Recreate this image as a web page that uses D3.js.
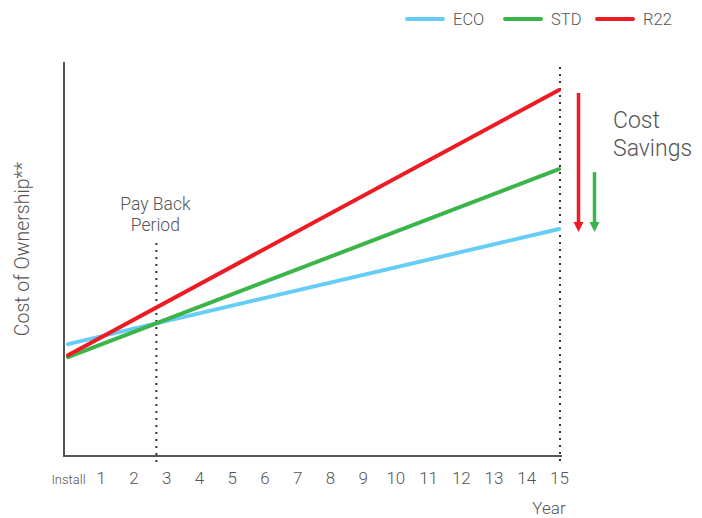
<!DOCTYPE html>
<html>
<head>
<meta charset="utf-8">
<script src="https://cdn.jsdelivr.net/npm/d3@7"></script>
<style>
  body { margin: 0; background: #fff; }
  svg text { font-family: Roboto, "Open Sans", sans-serif; font-weight: 300; fill: #555; }
</style>
</head>
<body>
<svg id="chart" width="702" height="518"></svg>
<script>

// years on the x axis, 0 = install
var years = [0, 15];
var tickLabels = ["Install", "1", "2", "3", "4", "5", "6", "7", "8", "9", "10", "11", "12", "13", "14", "15"];

// cost of ownership (relative units) at install and at year 15
var ecoCost = [28.4, 57.6];
var stdCost = [25.1, 72.8];
var r22Cost = [25.6, 92.9];

var seriesNames = ["ECO", "STD", "R22"];
var seriesColors = ["#66cdf5", "#3bb54a", "#ed1c24"];

var paybackYear = 2.7;

var svg = d3.select("#chart");

var x = d3.scaleLinear().domain([0, 15]).range([68, 559]);
var y = d3.scaleLinear().domain([0, 100]).range([456, 62]);

// axes lines
svg.append("line")
    .attr("x1", 64).attr("x2", 64)
    .attr("y1", y(100)).attr("y2", y(0) + 1)
    .attr("stroke", "#555").attr("stroke-width", 2);
svg.append("line")
    .attr("x1", 63).attr("x2", 562)
    .attr("y1", y(0)).attr("y2", y(0))
    .attr("stroke", "#555").attr("stroke-width", 2);

// tick labels
var xAxis = d3.axisBottom(x)
    .tickValues(d3.range(0, 16))
    .tickSize(0)
    .tickPadding(0)
    .tickFormat(function(d) { return tickLabels[d]; });

var gx = svg.append("g")
    .attr("transform", "translate(0," + 484 + ")")
    .call(xAxis);
gx.select(".domain").remove();
gx.selectAll("text")
    .attr("dy", 0)
    .style("font-size", function(d) { return d == 0 ? "13px" : "17px"; })
    .attr("fill", "#555");

svg.append("text")
    .attr("x", 549).attr("y", 514)
    .attr("text-anchor", "middle")
    .style("font-size", "17px")
    .text("Year");

svg.append("text")
    .attr("transform", "translate(29,249) rotate(-90)")
    .attr("text-anchor", "middle")
    .style("font-size", "19.5px")
    .text("Cost of Ownership**");

// dotted markers
svg.append("line")
    .attr("x1", x(paybackYear)).attr("x2", x(paybackYear))
    .attr("y1", 243).attr("y2", 464)
    .attr("stroke", "#333").attr("stroke-width", 2)
    .attr("stroke-dasharray", "2,5");
svg.append("line")
    .attr("x1", x(15) + 1).attr("x2", x(15) + 1)
    .attr("y1", 67).attr("y2", 464)
    .attr("stroke", "#333").attr("stroke-width", 2)
    .attr("stroke-dasharray", "2,5");

svg.append("text")
    .attr("x", x(paybackYear) - 1).attr("y", 210)
    .attr("text-anchor", "middle")
    .style("font-size", "17.5px")
    .text("Pay Back");
svg.append("text")
    .attr("x", x(paybackYear) - 1).attr("y", 231)
    .attr("text-anchor", "middle")
    .style("font-size", "17.5px")
    .text("Period");

// cost lines
var allCosts = [ecoCost, stdCost, r22Cost];
var line = d3.line()
    .x(function(d, i) { return x(years[i]); })
    .y(function(d) { return y(d); });

allCosts.forEach(function(c, i) {
    svg.append("path")
        .datum(c)
        .attr("d", line)
        .attr("fill", "none")
        .attr("stroke", seriesColors[i])
        .attr("stroke-width", 4)
        .attr("stroke-linecap", "round");
});

// savings arrows
function drawArrow(ax, fromVal, toVal, color) {
    var y1 = y(fromVal) + 3;
    var y2 = y(toVal) + 3;
    svg.append("line")
        .attr("x1", ax).attr("x2", ax)
        .attr("y1", y1).attr("y2", y2 - 8)
        .attr("stroke", color).attr("stroke-width", 3.5);
    svg.append("path")
        .attr("d", "M" + (ax - 5) + "," + (y2 - 10) + " L" + (ax + 5) + "," + (y2 - 10) + " L" + ax + "," + y2 + " Z")
        .attr("fill", color);
}
drawArrow(578.5, r22Cost[1], ecoCost[1], seriesColors[2]);
drawArrow(594.5, stdCost[1], ecoCost[1], seriesColors[1]);

svg.append("text")
    .attr("x", 613).attr("y", 128)
    .style("font-size", "23px")
    .text("Cost");
svg.append("text")
    .attr("x", 613).attr("y", 156)
    .style("font-size", "23px")
    .text("Savings");

// legend
var legendX = [407, 505, 597];
seriesNames.forEach(function(name, i) {
    var g = svg.append("g").attr("transform", "translate(" + legendX[i] + ",19)");
    g.append("line")
        .attr("x1", 0).attr("x2", 36)
        .attr("stroke", seriesColors[i])
        .attr("stroke-width", 4)
        .attr("stroke-linecap", "round");
    g.append("text")
        .attr("x", 46).attr("y", 6)
        .style("font-size", "16.5px")
        .text(name);
});

</script>
</body>
</html>
